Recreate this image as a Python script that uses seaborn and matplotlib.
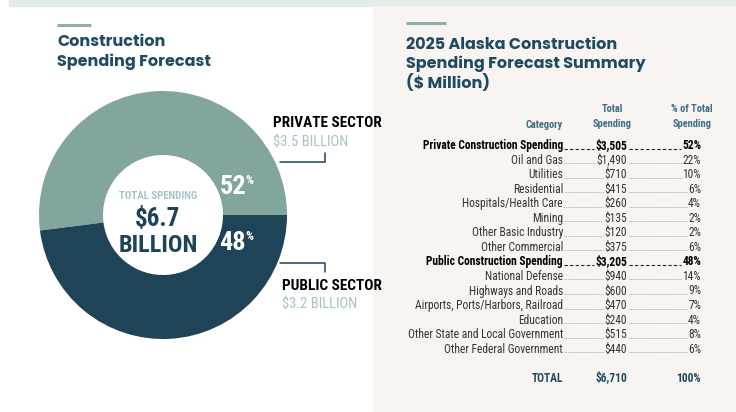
import matplotlib
matplotlib.use("Agg")
import matplotlib.pyplot as plt
import seaborn as sns
from matplotlib import font_manager
from matplotlib.patches import Rectangle

# ---------------- data ----------------
sectors = ["Private Sector", "Public Sector"]
sector_share = [52, 48]
sector_billions = ["$3.5 BILLION", "$3.2 BILLION"]
total_label = "$6.7"

categories = ["Private Construction Spending", "Oil and Gas", "Utilities", "Residential",
              "Hospitals/Health Care", "Mining", "Other Basic Industry", "Other Commercial",
              "Public Construction Spending", "National Defense", "Highways and Roads",
              "Airports, Ports/Harbors, Railroad", "Education",
              "Other State and Local Government", "Other Federal Government"]
spending = [3505, 1490, 710, 415, 260, 135, 120, 375, 3205, 940, 600, 470, 240, 515, 440]
pct_total = [52, 22, 10, 6, 4, 2, 2, 6, 48, 14, 9, 7, 4, 8, 6]
is_group = [True, False, False, False, False, False, False, False,
            True, False, False, False, False, False, False]
total_spending = 6710

# ---------------- style ----------------
sns.set_theme(style="white")
avail = {f.name for f in font_manager.fontManager.ttflist}
cond = next((f for f in ["Liberation Sans Narrow", "Roboto Condensed", "DejaVu Sans Condensed"]
             if f in avail), "DejaVu Sans")
head = next((f for f in ["Poppins", "Open Sans", "Lato"] if f in avail), "DejaVu Sans")
plt.rcParams["font.family"] = [cond, "DejaVu Sans"]

C_PRIV = "#82a59e"
C_PUB = "#1f4457"
C_TITLE = "#1f4a62"
C_HEAD = "#3a6f86"
C_LIGHT = "#a8c3c6"
palette = sns.color_palette([C_PRIV, C_PUB])

W, H = 736, 412
fig = plt.figure(figsize=(W / 100, H / 100), dpi=100)
fig.patch.set_facecolor("white")

# donut (drawn first so the overlay text sits on top)
cx, cy, R = 163, 215, 124
ax_pie = fig.add_axes([(cx - R) / W, (H - cy - R) / H, 2 * R / W, 2 * R / H])
ax_pie.pie(sector_share, colors=palette, startangle=0, counterclock=True, radius=1,
           wedgeprops=dict(width=1 - 60 / R, edgecolor="none"))
ax_pie.set_xlim(-1, 1)
ax_pie.set_ylim(-1, 1)
ax_pie.axis("off")

ax = fig.add_axes([0, 0, 1, 1])
ax.set_xlim(0, W)
ax.set_ylim(H, 0)
ax.axis("off")
ax.patch.set_alpha(0)

# backgrounds
ax.add_patch(Rectangle((9, 0), W - 9, 5.5, color="#e4ecea", zorder=0))
ax.add_patch(Rectangle((373, 5.5), W - 373, H, color="#f8f4f1", zorder=0))

# ---------------- left panel ----------------
ax.plot([57, 91], [25, 25], color="#8fb0aa", lw=2.2, solid_capstyle="butt")
ax.text(57, 42, "Construction", fontsize=11.5, fontweight="bold", family=head,
        color=C_TITLE, va="center", ha="left")
ax.text(57, 62, "Spending Forecast", fontsize=11.5, fontweight="bold", family=head,
        color=C_TITLE, va="center", ha="left")

# center text
ax.text(158, 196, "TOTAL SPENDING", fontsize=7.8, fontweight="bold", color=C_LIGHT,
        ha="center", va="center")
ax.text(158, 219, total_label, fontsize=18, fontweight="bold", color=C_PUB,
        ha="center", va="center")
ax.text(158, 245, "BILLION", fontsize=17.5, fontweight="bold", color=C_PUB,
        ha="center", va="center")

# percent labels in wedges
for val, y in zip(sector_share, [187, 243]):
    ax.text(246, y, f"{val}", fontsize=19, fontweight="bold", color="white",
            ha="right", va="center")
    ax.text(245.5, y - 6.5, "%", fontsize=9, fontweight="bold", color="white",
            ha="left", va="center")

# leader lines
ax.plot([280, 325, 325], [162, 162, 153], color=C_PUB, lw=1.1)
ax.plot([280, 325, 325], [263, 263, 272], color=C_PUB, lw=1.1)
ax.text(273, 123, sectors[0].upper(), fontsize=11, fontweight="bold", color="black",
        ha="left", va="center")
ax.text(273, 142, sector_billions[0], fontsize=10.5, color=C_LIGHT, ha="left", va="center")
ax.text(282, 286, sectors[1].upper(), fontsize=11, fontweight="bold", color="black",
        ha="left", va="center")
ax.text(282, 304, sector_billions[1], fontsize=10.5, color=C_LIGHT, ha="left", va="center")

# ---------------- right panel ----------------
ax.plot([406, 446], [23, 23], color="#8fb0aa", lw=2.2, solid_capstyle="butt")
for txt, y in zip(["2025 Alaska Construction", "Spending Forecast Summary", "($ Million)"],
                  [45, 64, 83]):
    ax.text(406, y, txt, fontsize=11.5, fontweight="bold", family=head, color=C_TITLE,
            ha="left", va="center")

ax.text(563, 125, "Category", fontsize=7.5, fontweight="bold", color=C_HEAD,
        ha="right", va="center")
ax.text(612, 108.5, "Total", fontsize=7.5, fontweight="bold", color=C_HEAD, ha="center", va="center")
ax.text(612, 124, "Spending", fontsize=7.5, fontweight="bold", color=C_HEAD, ha="center", va="center")
ax.text(692, 108.5, "% of Total", fontsize=7.5, fontweight="bold", color=C_HEAD, ha="center", va="center")
ax.text(692, 124, "Spending", fontsize=7.5, fontweight="bold", color=C_HEAD, ha="center", va="center")

X_CAT, X_VAL, X_PCT = 563, 627, 701
y0, dy = 145.5, 14.55
rows = []
for i, (cat, sp, pc, grp) in enumerate(zip(categories, spending, pct_total, is_group)):
    y = y0 + i * dy
    kw = dict(fontsize=8.3, va="center",
              fontweight="bold" if grp else "normal",
              color="black" if grp else "#333333")
    ax.text(X_CAT, y, cat, ha="right", **kw)
    tv = ax.text(X_VAL, y, f"${sp:,}", ha="right", **kw)
    tp = ax.text(X_PCT, y, f"{pc}%", ha="right", **kw)
    rows.append((y, grp, tv, tp))

ax.text(X_CAT, 378, "TOTAL", fontsize=8.3, fontweight="bold", color=C_TITLE, ha="right", va="center")
ax.text(X_VAL, 378, f"${total_spending:,}", fontsize=8.3, fontweight="bold", color=C_TITLE,
        ha="right", va="center")
ax.text(X_PCT, 378, "100%", fontsize=8.3, fontweight="bold", color=C_TITLE, ha="right", va="center")

# dotted leaders between columns
fig.canvas.draw()
rend = fig.canvas.get_renderer()
inv = ax.transData.inverted()
for y, grp, tv, tp in rows:
    xv = inv.transform(tv.get_window_extent(rend).get_points())[0][0]
    xp = inv.transform(tp.get_window_extent(rend).get_points())[0][0]
    if grp:
        ls, col, lw = (0, (3, 2)), "#222222", 0.8
    else:
        ls, col, lw = (0, (1, 1)), "#b58e8e", 0.6
    yl = y + 3
    ax.plot([X_CAT + 1, xv - 1], [yl, yl], ls=ls, color=col, lw=lw)
    ax.plot([X_VAL + 1.5, xp - 1], [yl, yl], ls=ls, color=col, lw=lw)

fig.savefig("out.png", dpi=100, facecolor=fig.get_facecolor())
